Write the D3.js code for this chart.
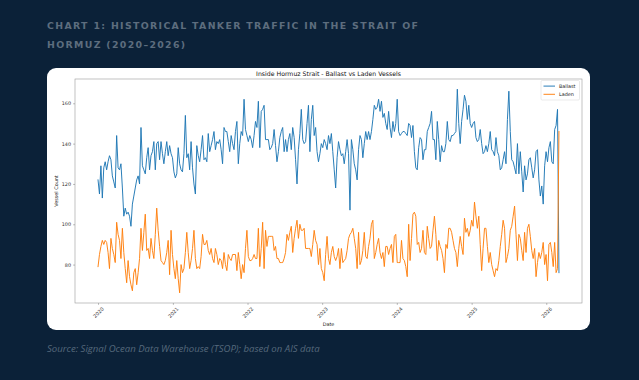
<!DOCTYPE html>
<html><head><meta charset="utf-8">
<script src="https://cdn.jsdelivr.net/npm/d3@7"></script>
<style>
html,body{margin:0;padding:0;background:#0b2138;}
svg{display:block}
</style></head><body>
<svg id="c" width="639" height="380"></svg>
<script>
// ---------- data ----------
const pageTitleLines = ["CHART 1: HISTORICAL TANKER TRAFFIC IN THE STRAIT OF", "HORMUZ (2020\u20132026)"];
const chartTitle = "Inside Hormuz Strait - Ballast vs Laden Vessels";
const sourceNote = "Source: Signal Ocean Data Warehouse (TSOP); based on AIS data";
const seriesNames = ["Ballast", "Laden"];
const startDate = "2020-01-01"; // weekly observations
const ballast = [
122,115,129,113,128,131,127,131,134,132, 124,121,118,144,128,127,130,118,104,108,
105,106,104,99,110,114,118,122,124,120, 148,129,127,125,133,138,127,134,136,141,
127,140,141,132,141,135,130,136,141,134, 139,135,133,126,123,125,138,130,127,126,
135,154,133,135,127,141,128,120,115,139, 134,131,137,144,132,133,131,145,136,139,
142,146,137,141,140,142,137,130,148,146, 146,141,136,144,140,137,146,151,130,140,
146,144,162,147,144,141,144,142,138,144, 151,148,161,138,156,157,159,142,142,142,
137,138,140,147,139,131,136,143,146,148, 136,142,136,142,145,137,148,143,132,120,
137,145,157,142,140,141,150,159,136,152, 159,144,148,136,131,135,140,138,142,140,
137,144,140,145,136,127,118,133,141,137, 134,135,130,136,142,135,107,142,137,130,
127,122,137,144,142,133,140,146,142,146, 142,146,152,159,157,158,162,156,161,153,
155,150,147,156,148,143,151,146,150,162, 146,144,145,146,146,145,144,150,149,143,
149,136,128,127,138,143,142,132,137,137, 146,148,150,156,142,142,132,151,142,131,
139,136,136,140,151,142,141,144,144,145, 146,167,150,140,151,157,164,161,152,159,
150,148,150,151,143,141,142,147,140,135, 136,139,136,140,146,137,136,134,143,136,
134,127,128,132,136,130,152,166,146,132, 131,128,125,140,125,136,126,116,129,122,
125,132,133,128,123,127,136,137,122,114, 119,110,129,136,131,138,141,131,130,147,
149,157,76
];
const laden = [
79,85,89,92,90,92,91,86,78,93, 88,85,81,101,95,92,83,98,86,78,
71,82,74,70,67,76,78,70,76,83, 98,87,96,105,87,88,83,93,87,83,
95,108,97,89,82,81,80,82,86,92, 75,97,85,78,73,82,73,66,80,76,
78,86,96,86,78,82,88,97,83,78, 79,78,84,95,90,90,92,87,85,88,
83,81,88,85,80,83,82,78,86,80, 77,85,83,82,85,85,85,77,86,80,
73,80,76,88,97,84,82,82,83,85, 83,83,98,79,88,101,78,97,89,94,
94,94,94,87,89,83,83,81,81,81, 83,86,95,92,96,99,86,93,98,102,
93,100,97,97,98,88,88,88,88,84, 90,97,92,90,80,88,78,76,72,85,
94,83,80,86,89,84,82,84,88,78, 88,81,82,83,87,93,95,96,98,93,
88,78,96,80,82,87,96,84,83,89, 93,100,102,83,86,90,93,86,83,86,
79,89,89,85,88,90,81,94,95,81, 81,81,92,83,82,79,74,100,82,93,
105,106,104,90,91,86,88,97,86,85, 99,93,88,89,97,104,95,82,92,89,
87,83,76,90,88,98,98,96,92,88, 86,79,88,94,89,85,103,96,98,94,
97,102,99,111,104,98,104,90,77,88, 98,98,89,81,86,80,77,74,78,77,
82,89,95,102,98,81,84,88,97,99, 104,109,95,82,95,93,87,82,96,86,
98,100,94,87,83,88,74,81,86,83, 86,91,80,85,72,90,91,86,79,91,
76,78,146
];
const yTickValues = [80, 100, 120, 140, 160];
const xTickYears = [2020, 2021, 2022, 2023, 2024, 2025, 2026];
const xAxisLabel = "Date";
const yAxisLabel = "Vessel Count";

// ---------- layout ----------
const svg = d3.select("#c");
const bg = "#0b2138";
svg.append("rect").attr("width", 639).attr("height", 380).attr("fill", bg);

const titleG = svg.append("g");
pageTitleLines.forEach((t, i) => {
  titleG.append("text").attr("x", 47).attr("y", 29 + i * 19.2)
    .attr("fill", "#5d6d7e").attr("font-family", "DejaVu Sans")
    .attr("font-weight", "bold").attr("font-size", 9.4)
    .attr("letter-spacing", 1.33).text(t);
});

svg.append("rect").attr("x", 47).attr("y", 68).attr("width", 543).attr("height", 262)
  .attr("rx", 9).attr("fill", "#ffffff");

svg.append("text").attr("x", 47).attr("y", 352).attr("fill", "#56697c")
  .attr("font-family", "Open Sans").attr("font-style", "italic").attr("font-size", 9.6)
  .text(sourceNote);

const L = 75, R = 582, T = 79, B = 303;
const parse = d3.timeParse("%Y-%m-%d");
const t0 = parse(startDate);
const dates = ballast.map((_, i) => d3.timeDay.offset(t0, 7 * i));

const tExt = d3.extent(dates);
const span = tExt[1] - tExt[0];
const x = d3.scaleTime()
  .domain([new Date(+tExt[0] - span * 0.05), new Date(+tExt[1] + span * 0.05)])
  .range([L, R]);
const allVals = ballast.concat(laden);
const vMin = d3.min(allVals), vMax = d3.max(allVals), vr = vMax - vMin;
const y = d3.scaleLinear().domain([vMin - vr * 0.05, vMax + vr * 0.05]).range([B, T]);

const font = "DejaVu Sans";
const tickFs = 4.9;

// axes
const xAxis = d3.axisBottom(x)
  .tickValues(xTickYears.map(yr => new Date(yr, 0, 1)))
  .tickFormat(d3.timeFormat("%Y")).tickSize(1.8).tickSizeOuter(0);
const gx = svg.append("g").attr("transform", `translate(0,${B})`).call(xAxis);
gx.select(".domain").remove();
gx.selectAll(".tick line").attr("stroke", "#444").attr("stroke-width", 0.4);
gx.selectAll(".tick text")
  .attr("y", 0).attr("x", 0).attr("dy", "0.35em")
  .attr("text-anchor", "middle")
  .attr("transform", "translate(0,9.6) rotate(-45)")
  .attr("font-family", font).attr("font-size", tickFs).attr("fill", "#333");

const yAxis = d3.axisLeft(y).tickValues(yTickValues).tickSize(1.8).tickSizeOuter(0).tickPadding(2.2);
const gy = svg.append("g").attr("transform", `translate(${L},0)`).call(yAxis);
gy.select(".domain").remove();
gy.selectAll(".tick line").attr("stroke", "#444").attr("stroke-width", 0.4);
gy.selectAll(".tick text").attr("font-family", font).attr("font-size", tickFs).attr("fill", "#333");

// lines
const colors = ["#1f77b4", "#ff7f0e"];
const seriesData = [ballast, laden];
const line = d3.line().x((d, i) => x(dates[i])).y(d => y(d));
const plot = svg.append("g");
seriesData.forEach((s, k) => {
  plot.append("path").datum(s).attr("d", line)
    .attr("fill", "none").attr("stroke", colors[k]).attr("stroke-width", 0.95)
    .attr("stroke-linejoin", "round").attr("stroke-linecap", "square");
});

// frame
svg.append("rect").attr("x", L).attr("y", T).attr("width", R - L).attr("height", B - T)
  .attr("fill", "none").attr("stroke", "#9a9a9a").attr("stroke-width", 0.6);

// titles / labels
svg.append("text").attr("x", (L + R) / 2).attr("y", 76).attr("text-anchor", "middle")
  .attr("font-family", font).attr("font-size", 6.2).attr("fill", "#111").text(chartTitle);
svg.append("text").attr("x", (L + R) / 2).attr("y", 325.5).attr("text-anchor", "middle")
  .attr("font-family", font).attr("font-size", tickFs).attr("fill", "#222").text(xAxisLabel);
svg.append("text").attr("transform", `translate(57.8,${(T + B) / 2}) rotate(-90)`)
  .attr("text-anchor", "middle").attr("font-family", font).attr("font-size", tickFs)
  .attr("fill", "#222").text(yAxisLabel);

// legend
const lg = svg.append("g").attr("transform", "translate(541,80.5)");
lg.append("rect").attr("width", 38.5).attr("height", 19.5).attr("rx", 1.2)
  .attr("fill", "#fff").attr("stroke", "#d4d4d4").attr("stroke-width", 0.5);
seriesNames.forEach((n, k) => {
  const yy = 5.6 + k * 8.2;
  lg.append("line").attr("x1", 2.5).attr("x2", 14).attr("y1", yy).attr("y2", yy)
    .attr("stroke", colors[k]).attr("stroke-width", 0.95);
  lg.append("text").attr("x", 18).attr("y", yy).attr("dy", "0.35em")
    .attr("font-family", font).attr("font-size", tickFs).attr("fill", "#222").text(n);
});
</script>
</body></html>
